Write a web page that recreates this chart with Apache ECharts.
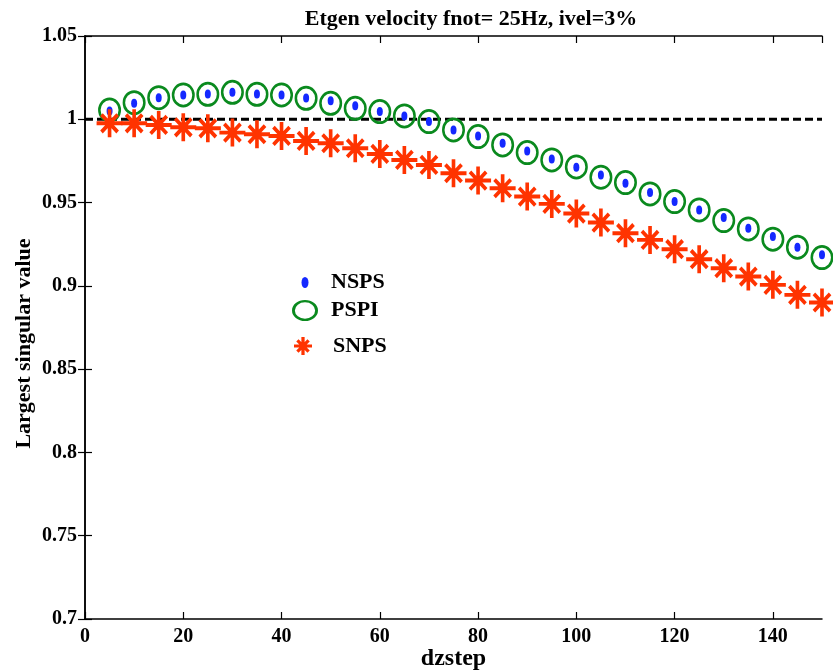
<!DOCTYPE html>
<html>
<head>
<meta charset="utf-8">
<script src="https://cdn.jsdelivr.net/npm/echarts@6/dist/echarts.min.js"></script>
<style>html,body{margin:0;padding:0;background:#fff}#c{width:833px;height:671px}</style>
</head>
<body>
<div id="c"></div>
<script>
const dzstep = [5,10,15,20,25,30,35,40,45,50,55,60,65,70,75,80,85,90,95,100,105,110,115,120,125,130,135,140,145,150];
const nsps = [1.005,1.0096,1.013,1.0146,1.0152,1.0162,1.0152,1.0146,1.0128,1.0112,1.0082,1.0046,1.002,0.9986,0.9936,0.990,0.9856,0.981,0.9762,0.9712,0.9666,0.9616,0.956,0.9506,0.9456,0.941,0.9346,0.9296,0.9232,0.9186];
const pspi = [1.0055,1.010,1.013,1.0146,1.015,1.0162,1.015,1.0146,1.0126,1.0096,1.0066,1.0046,1.002,0.9986,0.9936,0.9896,0.9846,0.980,0.9756,0.9714,0.9652,0.962,0.9552,0.9506,0.9456,0.9392,0.9342,0.928,0.9232,0.917];
const snps = [0.9976,0.9976,0.9966,0.9952,0.9946,0.992,0.991,0.990,0.987,0.9856,0.9826,0.9792,0.9756,0.9726,0.9676,0.9632,0.9586,0.9536,0.9492,0.9434,0.938,0.9316,0.9276,0.922,0.916,0.9106,0.9056,0.9006,0.8946,0.89];
const xTicks = [0,20,40,60,80,100,120,140];
const yTicks = [0.7,0.75,0.8,0.85,0.9,0.95,1,1.05];
const refLevel = 1;
const seriesNames = ['NSPS','PSPI','SNPS'];

const FONT = 'Liberation Serif';
const BLUE = '#1428ff', GREEN = '#0a8a1e', RED = '#ff3300';

// marker paths
const dotPath = 'path://M0,50 A50,50 0 1,1 100,50 A50,50 0 1,1 0,50 Z';
const ringPath = 'path://M0,50 A50,50 0 1,1 100,50 A50,50 0 1,1 0,50 Z M11,50 A39,39 0 1,0 89,50 A39,39 0 1,0 11,50 Z';
function starPath(ht){
  let d = '';
  [0,45,90,135].forEach(a=>{
    const r = a*Math.PI/180, c=Math.cos(r), s=Math.sin(r);
    const hl = (a%90===0)?50:44;
    const pts = [[-hl,-ht],[hl,-ht],[hl,ht],[-hl,ht]].map(([x,y])=>[50+x*c-y*s, 50+x*s+y*c]);
    d += 'M'+pts.map(p=>p[0].toFixed(2)+','+p[1].toFixed(2)).join(' L')+' Z ';
  });
  return 'path://'+d;
}
const star = starPath(7);
const starLeg = starPath(9);

const chart = echarts.init(document.getElementById('c'), null, {renderer:'canvas'});
const axisLine = {show:true, lineStyle:{color:'#000', width:1.5}};
const tick = {show:true, inside:true, length:7, lineStyle:{color:'#000', width:1.2}};
const lab = {color:'#000', fontFamily:FONT, fontWeight:'bold', fontSize:20};

function legendFor(name, icon, w, h, cy, cx, textX){
  return {
    show:true, orient:'vertical', left: cx - w/2, top: cy - h/2, padding:0,
    itemWidth:w, itemHeight:h, symbolKeepAspect:false,
    data:[{name:name, icon:icon}],
    textStyle:{color:'#000', fontFamily:FONT, fontWeight:'bold', fontSize:22, padding:[0,0,0, textX - (cx + w/2) - 5]}
  };
}

chart.setOption({
  animation:false,
  backgroundColor:'#fff',
  title:{text:'Etgen velocity fnot= 25Hz, ivel=3%', left:466, textAlign:'center', top:3,
    textStyle:{color:'#000', fontFamily:FONT, fontWeight:'bold', fontSize:22}},
  legend:[
    legendFor(seriesNames[0], dotPath, 7, 11, 277, 305, 331),
    legendFor(seriesNames[1], ringPath, 26, 21, 310, 305, 331),
    legendFor(seriesNames[2], starLeg, 18, 18, 344, 303, 333)
  ],
  grid:{left:85, right:11, top:36, bottom:52, containLabel:false, outerBoundsMode:'none'},
  xAxis:[{
    type:'value', min:0, max:150, interval:20,
    name:'dzstep', nameLocation:'middle', nameGap:28, nameMoveOverlap:false,
    nameTextStyle:{color:'#000', fontFamily:FONT, fontWeight:'bold', fontSize:24},
    axisLine, axisTick:tick, splitLine:{show:false},
    axisLabel:Object.assign({margin:8, showMaxLabel:false, formatter:v=> xTicks.includes(v)? String(v):''}, lab)
  },{
    type:'value', position:'top', min:0, max:150, interval:20,
    axisLine, axisTick:tick, splitLine:{show:false}, axisLabel:{show:false}
  }],
  yAxis:[{
    type:'value', min:0.7, max:1.05, interval:0.05,
    name:'Largest singular value', nameLocation:'middle', nameGap:50, nameRotate:90, nameMoveOverlap:false,
    nameTextStyle:{color:'#000', fontFamily:FONT, fontWeight:'bold', fontSize:22, padding:[0,0,0,-32]},
    axisLine, axisTick:tick, splitLine:{show:false},
    axisLabel:Object.assign({margin:8, formatter:v=>{const t=yTicks.find(x=>Math.abs(x-v)<1e-9);return t===undefined?'':String(t);}}, lab)
  },{
    type:'value', position:'right', min:0.7, max:1.05, interval:0.05,
    axisLine, axisTick:tick, splitLine:{show:false}, axisLabel:{show:false}
  }],
  series:[
    {name:'ref', type:'line', data:[[0,refLevel],[150,refLevel]], symbol:'none', z:1,
      lineStyle:{color:'#000', width:3, type:[8,4]}, silent:true},
    {name:seriesNames[0], type:'scatter', data:dzstep.map((x,i)=>[x,nsps[i]]), symbol:dotPath, symbolSize:[6,9],
      itemStyle:{color:BLUE, opacity:1}, clip:false, z:3},
    {name:seriesNames[1], type:'scatter', data:dzstep.map((x,i)=>[x,pspi[i]]), symbol:ringPath, symbolSize:[23,25],
      itemStyle:{color:GREEN, opacity:1}, clip:false, z:4},
    {name:seriesNames[2], type:'scatter', data:dzstep.map((x,i)=>[x,snps[i]]), symbol:star, symbolSize:[26,28],
      itemStyle:{color:RED, opacity:1}, clip:false, z:5}
  ]
});
</script>
</body>
</html>
